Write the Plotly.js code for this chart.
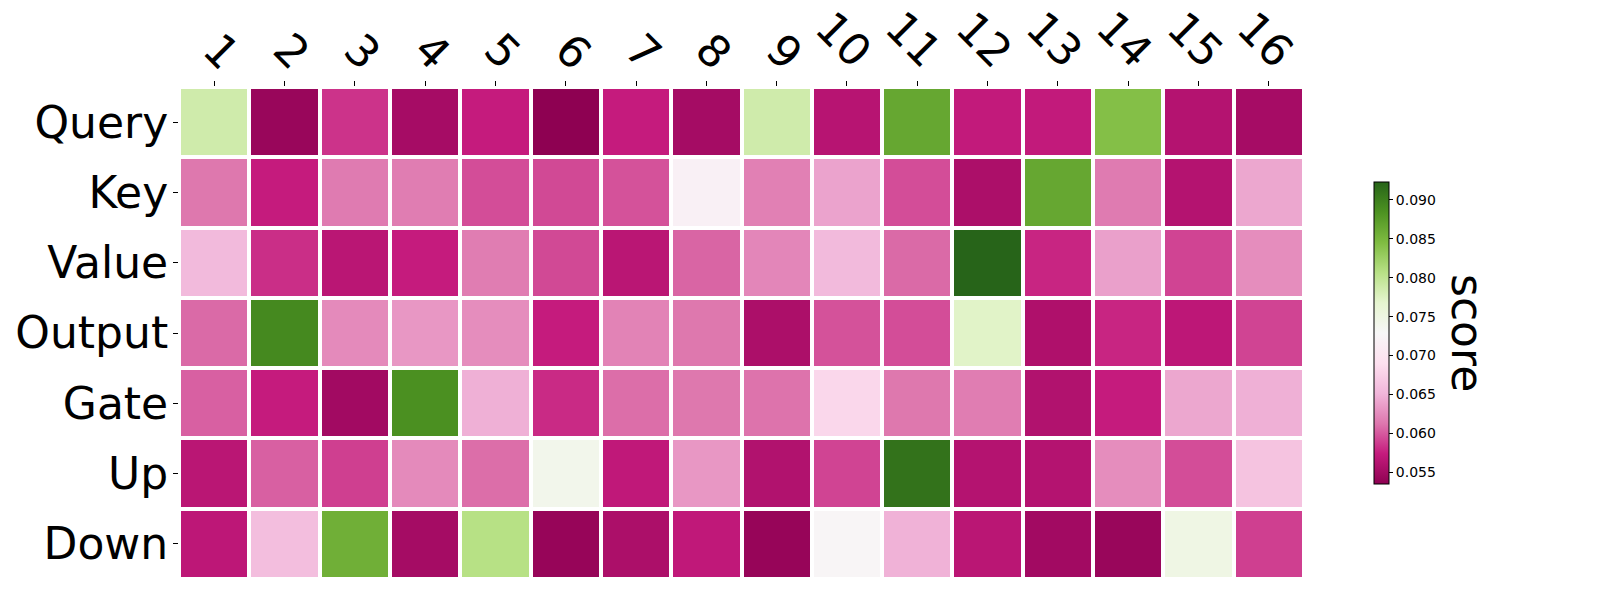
<!DOCTYPE html>
<html>
<head>
<meta charset="utf-8">
<script src="https://cdn.plot.ly/plotly-3.0.1.min.js"></script>
<style>
	html, body { margin: 0; padding: 0; background: #fff; }
	#plot { width: 1600px; height: 600px; }
</style>
</head>
<body>
<div id="plot"></div>
<script>
(function () {

	'use strict';

	// module names (rows, top to bottom) and layer index (columns)
	const modules = ['Query', 'Key', 'Value', 'Output', 'Gate', 'Up', 'Down'];
	const layers = ['1', '2', '3', '4', '5', '6', '7', '8', '9', '10', '11', '12', '13', '14', '15', '16'];

	// score per layer
	const query  = [0.0787, 0.0543, 0.0584, 0.0552, 0.0574, 0.0535, 0.0574, 0.0551, 0.0787, 0.0564, 0.0865, 0.0572, 0.0572, 0.0842, 0.0562, 0.0552];
	const key    = [0.0613, 0.0574, 0.0615, 0.0616, 0.0595, 0.0593, 0.0597, 0.0717, 0.0618, 0.0640, 0.0595, 0.0556, 0.0865, 0.0615, 0.0562, 0.0642];
	const value  = [0.0655, 0.0582, 0.0566, 0.0574, 0.0616, 0.0593, 0.0566, 0.0605, 0.0622, 0.0655, 0.0607, 0.0923, 0.0578, 0.0638, 0.0591, 0.0626];
	const output = [0.0607, 0.0892, 0.0624, 0.0632, 0.0626, 0.0574, 0.0620, 0.0613, 0.0556, 0.0597, 0.0595, 0.0772, 0.0558, 0.0578, 0.0568, 0.0591];
	const gate   = [0.0603, 0.0574, 0.0549, 0.0886, 0.0648, 0.0580, 0.0609, 0.0613, 0.0611, 0.0682, 0.0613, 0.0616, 0.0560, 0.0574, 0.0642, 0.0648];
	const up     = [0.0566, 0.0603, 0.0589, 0.0624, 0.0609, 0.0741, 0.0570, 0.0632, 0.0560, 0.0591, 0.0911, 0.0562, 0.0562, 0.0626, 0.0595, 0.0663];
	const down   = [0.0568, 0.0659, 0.0857, 0.0551, 0.0807, 0.0541, 0.0556, 0.0570, 0.0541, 0.0725, 0.0649, 0.0566, 0.0549, 0.0543, 0.0748, 0.0589];

	const colorbarTicks = [0.055, 0.060, 0.065, 0.070, 0.075, 0.080, 0.085, 0.090];

	// matplotlib PiYG
	const piyg = [
		'#8e0152', '#c51b7d', '#de77ae', '#f1b6da', '#fde0ef', '#f7f7f7',
		'#e6f5d0', '#b8e186', '#7fbc41', '#4d9221', '#276419'
	].map(( c, i, arr ) => [ i / (arr.length - 1), c ]);

	const font = 'DejaVu Sans, sans-serif';

	const z = [ query, key, value, output, gate, up, down ];
	const all = [].concat( ...z );

	const heat = {
		type: 'heatmap',
		x: layers,
		y: modules,
		z: z,
		zmin: Math.min( ...all ),
		zmax: Math.max( ...all ),
		colorscale: piyg,
		xgap: 4,
		ygap: 4,
		hovertemplate: '%{y} %{x}: %{z:.4f}<extra></extra>',
		colorbar: {
			x: 1.0622,
			xanchor: 'left',
			xpad: 0,
			y: 0.5,
			yanchor: 'middle',
			ypad: 0,
			len: 302,
			lenmode: 'pixels',
			thickness: 15,
			thicknessmode: 'pixels',
			outlinewidth: 1,
			outlinecolor: '#000',
			tickvals: colorbarTicks,
			tickformat: '.3f',
			ticks: 'outside',
			ticklen: 4,
			tickcolor: '#000',
			tickfont: { family: font, size: 14, color: '#000' },
		},
	};

	// rotated layer labels above the grid (category index as x; two-digit labels sit a bit higher / left)
	const layerLabels = layers.map(( l, i ) => ({
		x: i,
		xref: 'x',
		y: 1,
		yref: 'paper',
		text: l,
		textangle: 45,
		showarrow: false,
		xanchor: 'center',
		yanchor: 'middle',
		xshift: l.length > 1 ? -3 : 8,
		yshift: l.length > 1 ? 48 : 36,
		font: { family: font, size: 44, color: '#000' },
	}));

	const layout = {
		width: 1600,
		height: 600,
		margin: { l: 179, r: 296, t: 87, b: 21, autoexpand: false },
		paper_bgcolor: '#fff',
		plot_bgcolor: '#fff',
		font: { family: font, color: '#000' },
		xaxis: {
			type: 'category',
			side: 'top',
			range: [ -0.5, layers.length - 0.5 ],
			autorange: false,
			showgrid: false,
			zeroline: false,
			showline: false,
			ticks: 'outside',
			ticklen: 5,
			tickcolor: '#000',
			showticklabels: false,
		},
		yaxis: {
			type: 'category',
			range: [ modules.length - 0.5, -0.5 ],
			autorange: false,
			showgrid: false,
			zeroline: false,
			showline: false,
			ticks: 'outside',
			ticklen: 5,
			tickcolor: '#000',
			ticklabelstandoff: -4,
			tickfont: { family: font, size: 44, color: '#000' },
		},
		annotations: layerLabels.concat([{
			x: 1.1458,
			xref: 'paper',
			y: 0.5,
			yref: 'paper',
			text: 'score',
			textangle: 90,
			showarrow: false,
			xanchor: 'center',
			yanchor: 'middle',
			font: { family: font, size: 44, color: '#000' },
		}]),
	};

	Plotly.newPlot( 'plot', [ heat ], layout, { displayModeBar: false, staticPlot: true });

})();
</script>
</body>
</html>
